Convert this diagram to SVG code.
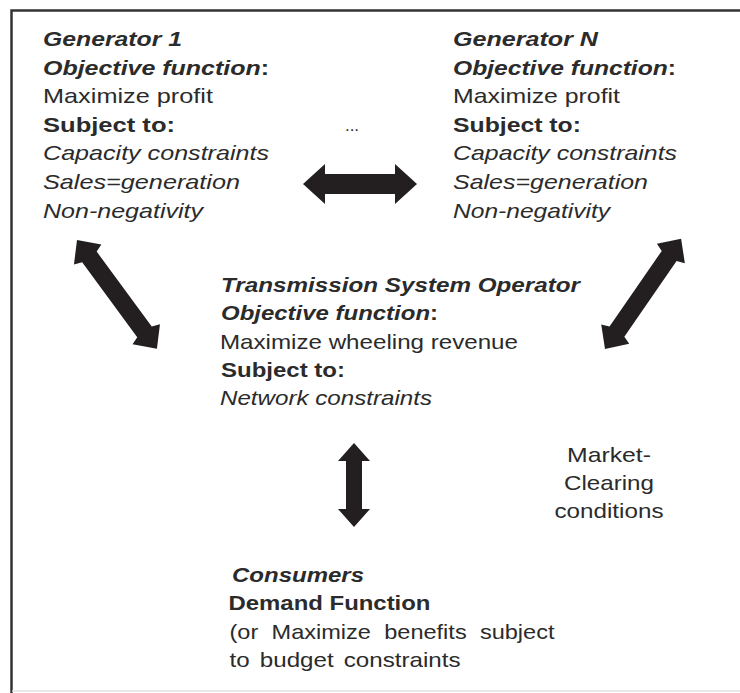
<svg xmlns="http://www.w3.org/2000/svg" width="740" height="693" viewBox="0 0 740 693">
<style>
text{font-family:"Liberation Sans",Arial,sans-serif;font-size:21px;fill:#2b2b2b}
.bi{font-weight:bold;font-style:italic}
.b{font-weight:bold}
.i{font-style:italic}
.up{font-style:normal}
.arr{fill:#231f20}
</style>
<rect width="740" height="693" fill="#fff"/>
<path d="M11.5,693 V10.5 H740" fill="none" stroke="#333" stroke-width="2.5"/>
<line x1="12" y1="691" x2="740" y2="691" stroke="#e2e2e2" stroke-width="1.5"/>
<g id="gen1">
<text x="43" y="46" class="bi" textLength="139" lengthAdjust="spacingAndGlyphs">Generator 1</text>
<text x="43" y="74.5" class="bi" textLength="226" lengthAdjust="spacingAndGlyphs">Objective function<tspan class="up">:</tspan></text>
<text x="43" y="103" textLength="170" lengthAdjust="spacingAndGlyphs">Maximize profit</text>
<text x="43" y="131.5" class="b" textLength="132" lengthAdjust="spacingAndGlyphs">Subject to:</text>
<text x="43" y="160" class="i" textLength="226" lengthAdjust="spacingAndGlyphs">Capacity constraints</text>
<text x="43" y="189" class="i" textLength="197" lengthAdjust="spacingAndGlyphs">Sales=generation</text>
<text x="43" y="217.5" class="i" textLength="160" lengthAdjust="spacingAndGlyphs">Non-negativity</text>
</g>
<g id="genN">
<text x="453" y="46" class="bi" textLength="145" lengthAdjust="spacingAndGlyphs">Generator N</text>
<text x="453" y="74.5" class="bi" textLength="223" lengthAdjust="spacingAndGlyphs">Objective function<tspan class="up">:</tspan></text>
<text x="453" y="103" textLength="167" lengthAdjust="spacingAndGlyphs">Maximize profit</text>
<text x="453" y="131.5" class="b" textLength="128" lengthAdjust="spacingAndGlyphs">Subject to:</text>
<text x="453" y="160" class="i" textLength="224" lengthAdjust="spacingAndGlyphs">Capacity constraints</text>
<text x="453" y="189" class="i" textLength="195" lengthAdjust="spacingAndGlyphs">Sales=generation</text>
<text x="453" y="217.5" class="i" textLength="157" lengthAdjust="spacingAndGlyphs">Non-negativity</text>
</g>
<g id="ellipsis">
<text x="352" y="131" text-anchor="middle" style="font-size:17px">...</text>
</g>
<g id="tso">
<text x="221" y="291.5" class="bi" textLength="359" lengthAdjust="spacingAndGlyphs">Transmission System Operator</text>
<text x="221" y="320" class="bi" textLength="217" lengthAdjust="spacingAndGlyphs">Objective function<tspan class="up">:</tspan></text>
<text x="220" y="348.5" textLength="298" lengthAdjust="spacingAndGlyphs">Maximize wheeling revenue</text>
<text x="221" y="377" class="b" textLength="124" lengthAdjust="spacingAndGlyphs">Subject to:</text>
<text x="220" y="405" class="i" textLength="212" lengthAdjust="spacingAndGlyphs">Network constraints</text>
</g>
<g id="market-clearing">
<text x="609" y="461.5" text-anchor="middle" textLength="84" lengthAdjust="spacingAndGlyphs">Market-</text>
<text x="609" y="489.5" text-anchor="middle" textLength="90" lengthAdjust="spacingAndGlyphs">Clearing</text>
<text x="609" y="517.5" text-anchor="middle" textLength="109" lengthAdjust="spacingAndGlyphs">conditions</text>
</g>
<g id="consumers">
<text x="232" y="581.5" class="bi" textLength="132" lengthAdjust="spacingAndGlyphs">Consumers</text>
<text x="228.5" y="610" class="b" textLength="202" lengthAdjust="spacingAndGlyphs">Demand Function</text>
<text x="229.5" y="638.5" textLength="325" lengthAdjust="spacingAndGlyphs" word-spacing="6">(or Maximize benefits subject</text>
<text x="229.5" y="667" textLength="231" lengthAdjust="spacingAndGlyphs" word-spacing="3">to budget constraints</text>
</g>
<g id="connectors">
<path class="arr" transform="translate(303,184)" d="M0,0 L22,-20 L22,-10 L92,-10 L92,-20 L114,0 L92,20 L92,10 L22,10 L22,20 Z"/>
<path class="arr" transform="translate(77,240) rotate(53.7)" d="M0,0 L18,-17 L21,-9 L114,-9 L117,-17 L135,0 L117,17 L114,9 L21,9 L18,17 Z"/>
<path class="arr" transform="translate(605,349) rotate(-55.4)" d="M0,0 L18,-17 L21,-9 L113,-9 L116,-17 L134,0 L116,17 L113,9 L21,9 L18,17 Z"/>
<path class="arr" transform="translate(354,443) rotate(90)" d="M0,0 L18,-16 L18,-8 L66,-8 L66,-16 L84,0 L66,16 L66,8 L18,8 L18,16 Z"/>
</g>
</svg>
